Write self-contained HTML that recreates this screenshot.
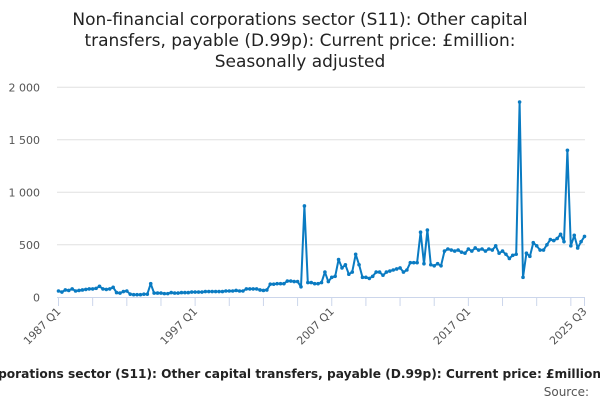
<!DOCTYPE html>
<html><head><meta charset="utf-8"><style>
body{margin:0;background:#fff;width:600px;height:400px;overflow:hidden;font-family:"Liberation Sans","DejaVu Sans",sans-serif}
</style></head><body>
<svg id="chart" width="600" height="400" xmlns="http://www.w3.org/2000/svg" font-family="'DejaVu Sans','Liberation Sans',sans-serif">
<g font-size="17" fill="#222" text-anchor="middle">
<text x="300" y="25">Non-financial corporations sector (S11): Other capital</text>
<text x="300" y="46">transfers, payable (D.99p): Current price: £million:</text>
<text x="300" y="67">Seasonally adjusted</text>
</g>
<g id="grid"></g><g id="xaxis"></g><g id="series"></g>
<text x="601" y="378" text-anchor="end" font-size="12.2" font-weight="bold" fill="#222">Non-financial corporations sector (S11): Other capital transfers, payable (D.99p): Current price: £million</text>
<text x="589" y="396" text-anchor="end" font-size="12" fill="#555">Source:</text>
</svg>
<script>
const values=[60,50,70,65,80,60,65,70,75,80,80,85,
105,80,75,80,95,45,40,55,60,30,25,25,
25,30,30,130,40,40,40,35,35,45,40,40,
45,45,45,50,50,50,50,55,55,55,55,55,
55,60,60,60,65,60,60,80,80,80,80,70,
65,70,125,125,130,130,130,155,155,150,150,100,
870,140,140,130,130,140,240,150,190,200,360,280,
310,220,240,410,310,190,190,180,200,240,240,210,
240,250,260,270,280,240,260,330,330,330,620,320,
640,310,300,320,300,440,460,450,440,450,430,420,
460,440,470,450,460,440,460,450,490,420,440,410,
370,400,410,1860,190,420,390,520,490,450,450,500,
550,540,560,600,530,1400,490,590,470,530,580];
const yTicks=[0,500,1000,1500,2000];
const yTickLabels=["0","500","1 000","1 500","2 000"];
const xLabels=["1987 Q1","1997 Q1","2007 Q1","2017 Q1","2025 Q3"];
const xLabelIdx=[0,40,80,120,154];
const NS="http://www.w3.org/2000/svg";
const X=i=>58.5+i*(526/154);
const Y=v=>297.3-v*0.105;
function mk(t,a,p){const e=document.createElementNS(NS,t);for(const k in a)e.setAttribute(k,a[k]);p.appendChild(e);return e;}
const grid=document.getElementById('grid');
yTicks.forEach((v,i)=>{
 if(v>0){const l=mk('line',{x1:57,x2:585,y1:Y(v),y2:Y(v),stroke:'#e0e0e0','stroke-width':1},grid);
 
 }
 const t=mk('text',{x:40,y:Y(v)+4,'text-anchor':'end','font-size':11,fill:'#555'},grid);
 t.textContent=yTickLabels[i];
 
 
});
const xa=document.getElementById('xaxis');
const al=mk('line',{x1:57,x2:585,y1:297.5,y2:297.5,stroke:'#ccd6eb','stroke-width':1},xa);


for(let i=0;i<=154;i+=10){
 const tk=mk('line',{x1:X(i),x2:X(i),y1:297,y2:306,stroke:'#ccd6eb','stroke-width':1},xa);
 
 
}
const tk2=mk('line',{x1:X(154),x2:X(154),y1:297,y2:306,stroke:'#ccd6eb','stroke-width':1},xa);


xLabels.forEach((s,j)=>{
 const x=X(xLabelIdx[j]);
 const t=mk('text',{x:x+3,y:312,'text-anchor':'end','font-size':11,fill:'#555',transform:`rotate(-45 ${x+3} 312)`},xa);
 t.textContent=s;
 
 
});
const sg=document.getElementById('series');
const pts=values.map((v,i)=>X(i).toFixed(1)+','+Y(v).toFixed(1)).join(' ');
const pl=mk('polyline',{points:pts,fill:'none',stroke:'#0a7bc2','stroke-width':2,'stroke-linejoin':'round'},sg);


values.forEach((v,i)=>{
 const c=mk('circle',{cx:X(i),cy:Y(v),r:1.8,fill:'#0a7bc2'},sg);
 
 
});
</script>
</body></html>
